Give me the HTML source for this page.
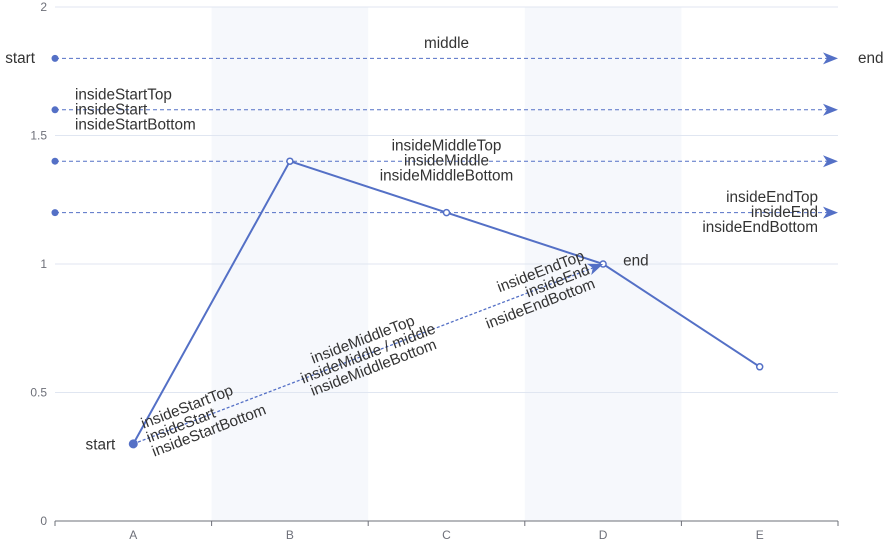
<!DOCTYPE html>
<html><head><meta charset="utf-8"><style>
html,body{margin:0;padding:0;background:#fff;width:896px;height:547px;overflow:hidden}
svg{display:block;font-family:"Liberation Sans","Noto Sans CJK SC",sans-serif}
</style></head><body>
<svg id="c" width="896" height="547"></svg>
<script>
const categories=['A','B','C','D','E'];
const seriesValues=[0.3,1.4,1.2,1.0,0.6];
const yTicks=[0,0.5,1,1.5,2];
const hLineValues=[1.8,1.6,1.4,1.2];
const diagFrom=['A',0.3];
const diagTo=['D',1.0];
const X0=55,X1=838,Y0=521,Y1=7,YMAX=2;
const bw=(X1-X0)/categories.length;
const xs=c=>X0+bw*(categories.indexOf(c)+0.5);
const ys=v=>Y0-(v/YMAX)*(Y0-Y1);
const NS='http://www.w3.org/2000/svg';
const svg=document.getElementById('c');
const FS=15.3;
function mk(t,a,p){const e=document.createElementNS(NS,t);for(const k in a)e.setAttribute(k,a[k]);(p||svg).appendChild(e);return e;}
function txt(s,x,y,anchor,size,fill,p){const e=mk('text',{x:x,y:y,'text-anchor':anchor,'font-size':size,fill:fill,'dominant-baseline':'central'},p);e.textContent=s;return e;}
const C='#5470c6';
categories.forEach((c,i)=>{if(i%2==1){const r=mk('rect',{x:X0+bw*i,y:Y1,width:bw,height:Y0-Y1,fill:'#f6f8fc'});

}});
yTicks.forEach(v=>{if(v>0){const l=mk('line',{x1:X0,x2:X1,y1:ys(v),y2:ys(v),stroke:'#e0e6f1'});

}
const t=txt(String(v),47,ys(v),'end',12,'#6e7079');

});
const ax=mk('line',{x1:X0,x2:X1,y1:Y0,y2:Y0,stroke:'#6e7079'});


for(let i=0;i<=categories.length;i++)mk('line',{x1:X0+bw*i,x2:X0+bw*i,y1:Y0,y2:Y0+5,stroke:'#6e7079'});
categories.forEach(c=>{const t=txt(c,xs(c),535,'middle',12,'#6e7079');

});
function arrow(x,y,ang,p){const g=mk('g',{transform:`translate(${x},${y}) rotate(${ang})`},p);mk('path',{d:'M0,0 L-15,-6 L-11,0 L-15,6 Z',fill:C},g);}
const LC='#333';
hLineValues.forEach((v,i)=>{const y=ys(v);
const l=mk('line',{x1:X0,x2:X1-4,y1:y,y2:y,stroke:C,'stroke-dasharray':'4,3'});


mk('circle',{cx:X0,cy:y,r:3.5,fill:C});arrow(X1,y,0);
if(i==0){txt('start',35,y,'end',FS,LC);txt('middle',(X0+X1)/2,y-15,'middle',FS,LC);txt('end',858,y,'start',FS,LC);}
if(i==1){txt('insideStartTop',75,y-15,'start',FS,LC);txt('insideStart',75,y,'start',FS,LC);txt('insideStartBottom',75,y+15,'start',FS,LC);}
if(i==2){const m=(X0+X1)/2;txt('insideMiddleTop',m,y-15,'middle',FS,LC);txt('insideMiddle',m,y,'middle',FS,LC);txt('insideMiddleBottom',m,y+15,'middle',FS,LC);}
if(i==3){txt('insideEndTop',818,y-15,'end',FS,LC);txt('insideEnd',818,y,'end',FS,LC);txt('insideEndBottom',818,y+15,'end',FS,LC);}
});
const pts=categories.map((c,i)=>[xs(c),ys(seriesValues[i])]);
const pl=mk('polyline',{points:pts.map(p=>p.join(',')).join(' '),fill:'none',stroke:C,'stroke-width':2});


pts.forEach((p,i)=>{const d=mk('circle',{cx:p[0],cy:p[1],r:3,fill:'#fff',stroke:C,'stroke-width':1.5});

});
const ax0=xs(diagFrom[0]),ay0=ys(diagFrom[1]),ax1=xs(diagTo[0]),ay1=ys(diagTo[1]);
const L=Math.hypot(ax1-ax0,ay1-ay0),ang=Math.atan2(ay1-ay0,ax1-ax0)*180/Math.PI;
const g=mk('g',{transform:`translate(${ax0},${ay0}) rotate(${ang})`});


mk('line',{x1:0,y1:0,x2:L-4,y2:0,stroke:C,'stroke-dasharray':'3,2','stroke-width':1.3},g);
mk('circle',{cx:0,cy:0,r:4.5,fill:C},g);arrow(L,0,0,g);
txt('insideStartTop',15,-15,'start',FS,LC,g);txt('insideStart',15,0,'start',FS,LC,g);txt('insideStartBottom',15,15,'start',FS,LC,g);
txt('insideMiddleTop',L/2,-15,'middle',FS,LC,g);txt('insideMiddle / middle',L/2,0,'middle',FS,LC,g);txt('insideMiddleBottom',L/2,15,'middle',FS,LC,g);
txt('insideEndTop',L-15,-15,'end',FS,LC,g);txt('insideEnd',L-15,0,'end',FS,LC,g);txt('insideEndBottom',L-15,15,'end',FS,LC,g);
txt('start',ax0-18,ay0+1,'end',FS,LC);txt('end',ax1+20,ay1-3,'start',FS,LC);
</script>
</body></html>
